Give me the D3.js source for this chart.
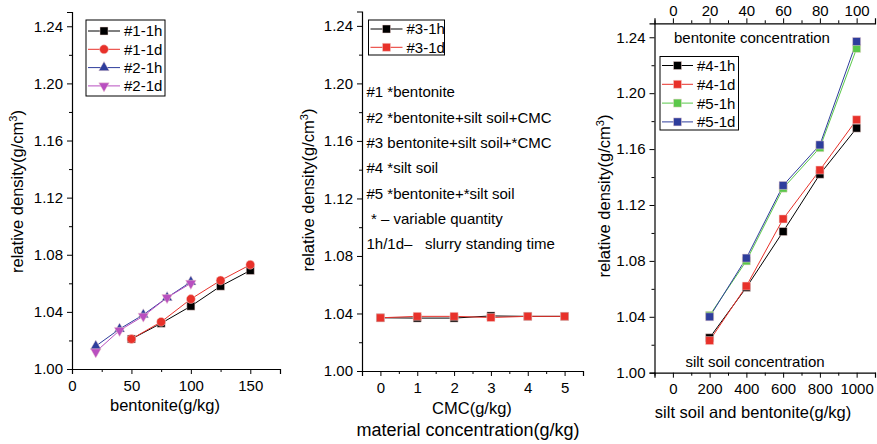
<!DOCTYPE html>
<html>
<head>
<meta charset="utf-8">
<script src="https://cdn.jsdelivr.net/npm/d3@7"></script>
<style>
  body { margin: 0; background: #fff; }
  text { font-family: "Liberation Sans", Arial, sans-serif; fill: #000; white-space: pre; }
</style>
</head>
<body>
<script>
// ---- data ----
var bentX1 = [50, 75, 100, 125, 150];
var s1h = [1.021, 1.032, 1.044, 1.058, 1.069];
var s1d = [1.021, 1.033, 1.049, 1.062, 1.073];
var bentX2 = [20, 40, 60, 80, 100];
var s2h = [1.016, 1.028, 1.038, 1.050, 1.061];
var s2d = [1.012, 1.027, 1.037, 1.050, 1.060];

var cmcX = [0, 1, 2, 3, 4, 5];
var s3h = [1.037, 1.0368, 1.0368, 1.0383, 1.038, 1.038];
var s3d = [1.037, 1.038, 1.038, 1.0372, 1.038, 1.038];

var mixX = [200, 400, 600, 800, 1000];
var s4h = [1.025, 1.061, 1.101, 1.142, 1.175];
var s4d = [1.023, 1.062, 1.110, 1.145, 1.181];
var s5h = [1.041, 1.080, 1.132, 1.161, 1.232];
var s5d = [1.040, 1.082, 1.134, 1.163, 1.237];

var yTicks = [1.00, 1.04, 1.08, 1.12, 1.16, 1.20, 1.24];
var yMinor = [1.02, 1.06, 1.10, 1.14, 1.18, 1.22];

var notes = ["#1 *bentonite", "#2 *bentonite+silt soil+CMC", "#3 bentonite+silt soil+*CMC",
  "#4 *silt soil", "#5 *bentonite+*silt soil", "* \u2013 variable quantity",
  "1h/1d\u2013   slurry standing time"];

var C = { black: "#000000", red: "#e8312a", blue: "#2e3d9c", magenta: "#b94fc0", green: "#5ac84a" };

var W = 877, H = 444;
var svg = d3.select("body").append("svg").attr("width", W).attr("height", H);

var sym = {
  square: d3.symbol().type(d3.symbolSquare).size(64),
  circle: d3.symbol().type(d3.symbolCircle).size(62),
  up: d3.symbol().type(d3.symbolTriangle).size(48),
  down: d3.symbol().type(d3.symbolTriangle).size(48)
};

function drawMarker(g, kind, color, x, y) {
  g.append("path")
    .attr("d", sym[kind]())
    .attr("transform", "translate(" + x + "," + y + ")" + (kind == "down" ? " rotate(180)" : ""))
    .attr("fill", color)
    .attr("stroke", "#f3d3d0")
    .attr("stroke-opacity", 0.6)
    .attr("stroke-width", 0.8);
}

function styleAxis(g) {
  g.selectAll(".domain").attr("stroke", "#000").attr("stroke-width", 1.2);
  g.selectAll(".tick line").attr("stroke", "#000").attr("stroke-width", 1);
  g.selectAll(".tick text").style("font-size", "15px");
}

function yTitle(x, y) {
  var t = svg.append("text")
    .attr("transform", "translate(" + x + "," + y + ") rotate(-90)")
    .attr("text-anchor", "middle")
    .style("font-size", "16.5px");
  t.append("tspan").text("relative density(g/cm");
  t.append("tspan").attr("dy", -6).style("font-size", "11px").text("3");
  t.append("tspan").attr("dy", 6).text(")");
}

function panel(p) {
  var x = d3.scaleLinear().domain(p.xDomain).range([p.left, p.right]);
  var y = d3.scaleLinear().domain([1.00, 1.25]).range([p.bottom, p.top]);

  // y axis
  var ya = svg.append("g").attr("transform", "translate(" + p.left + ",0)")
    .call(d3.axisLeft(y).tickValues(yTicks).tickFormat(d3.format(".2f")).tickSizeOuter(0).tickSize(5).tickPadding(4));
  styleAxis(ya);
  svg.append("g").attr("transform", "translate(" + p.left + ",0)")
    .call(d3.axisLeft(y).tickValues(yMinor).tickFormat("").tickSize(3).tickSizeOuter(0))
    .call(function(g) { g.select(".domain").remove(); styleAxis(g); });

  // x axis
  var xa = svg.append("g").attr("transform", "translate(0," + p.bottom + ")")
    .call(d3.axisBottom(x).tickValues(p.xTicks).tickFormat(d3.format("d")).tickSizeOuter(0).tickSize(5).tickPadding(6));
  styleAxis(xa);
  svg.append("g").attr("transform", "translate(0," + p.bottom + ")")
    .call(d3.axisBottom(x).tickValues(p.xMinor).tickFormat("").tickSize(3).tickSizeOuter(0))
    .call(function(g) { g.select(".domain").remove(); styleAxis(g); });

  svg.append("text").attr("x", p.xTitleX).attr("y", p.bottom + p.xTitleDy)
    .attr("text-anchor", "middle").style("font-size", "16.5px").text(p.xTitle);

  yTitle(p.yTitleX, p.yTitleY);

  var line = d3.line().x(function(d) { return x(d[0]); }).y(function(d) { return y(d[1]); });
  p.series.forEach(function(s) {
    var pts = d3.zip(s.x, s.v);
    svg.append("path").datum(pts).attr("d", line)
      .attr("fill", "none").attr("stroke", s.color).attr("stroke-width", 1);
  });
  p.series.forEach(function(s) {
    var g = svg.append("g");
    d3.zip(s.x, s.v).forEach(function(d) { drawMarker(g, s.kind, s.color, x(d[0]), y(d[1])); });
  });

  // legend
  var L = p.legend;
  svg.append("rect").attr("x", L.x).attr("y", L.y).attr("width", L.w).attr("height", L.h)
    .attr("fill", "#fff").attr("stroke", "#000").attr("stroke-width", 1);
  p.series.forEach(function(s, i) {
    var cy = L.y + L.first + i * L.step;
    svg.append("line").attr("x1", L.x + 2).attr("x2", L.x + 2 + L.lineW).attr("y1", cy).attr("y2", cy)
      .attr("stroke", s.color).attr("stroke-width", 1);
    drawMarker(svg, s.kind, s.color, L.x + 2 + L.lineW / 2, cy);
    svg.append("text").attr("x", L.x + L.lineW + 6).attr("y", cy).attr("dy", "0.36em")
      .style("font-size", "15px").text(s.name);
  });
  return { x: x, y: y };
}

// panel 1
panel({
  left: 72, right: 280, top: 12, bottom: 369,
  xDomain: [0, 175], xTicks: [0, 50, 100, 150], xMinor: [25, 75, 125, 175],
  xTitle: "bentonite(g/kg)", xTitleX: 165, xTitleDy: 42, yTitleX: 23, yTitleY: 191.5,
  series: [
    { name: "#1-1h", x: bentX1, v: s1h, color: C.black, kind: "square" },
    { name: "#1-1d", x: bentX1, v: s1d, color: C.red, kind: "circle" },
    { name: "#2-1h", x: bentX2, v: s2h, color: C.blue, kind: "up" },
    { name: "#2-1d", x: bentX2, v: s2d, color: C.magenta, kind: "down" }
  ],
  legend: { x: 86, y: 20, w: 79, h: 76, first: 11, step: 18.3, lineW: 32 }
});

// panel 2
panel({
  left: 362, right: 583, top: 11.5, bottom: 371,
  xDomain: [-0.5, 5.5], xTicks: [0, 1, 2, 3, 4, 5], xMinor: [-0.5, 0.5, 1.5, 2.5, 3.5, 4.5, 5.5],
  xTitle: "CMC(g/kg)", xTitleX: 472, xTitleDy: 43, yTitleX: 314, yTitleY: 190,
  series: [
    { name: "#3-1h", x: cmcX, v: s3h, color: C.black, kind: "square" },
    { name: "#3-1d", x: cmcX, v: s3d, color: C.red, kind: "square" }
  ],
  legend: { x: 368.5, y: 20, w: 76, h: 35, first: 9, step: 18.3, lineW: 32 }
});

svg.append("text").attr("x", 468).attr("y", 436).attr("text-anchor", "middle")
  .style("font-size", "18px").text("material concentration(g/kg)");

svg.append("g").selectAll("text").data(notes).join("text")
  .attr("x", function(d, i) { return i == 5 ? 371 : 366.5; })
  .attr("y", function(d, i) { return 92 + i * 25.3; })
  .attr("dy", "0.36em")
  .style("font-size", "15px")
  .text(function(d) { return d; });

// panel 3
panel({
  left: 654.5, right: 875, top: 23.3, bottom: 372.7,
  xDomain: [-100, 1100], xTicks: [0, 200, 400, 600, 800, 1000], xMinor: [-100, 100, 300, 500, 700, 900, 1100],
  xTitle: "silt soil and bentonite(g/kg)", xTitleX: 753, xTitleDy: 45, yTitleX: 610, yTitleY: 196,
  series: [
    { name: "#4-1h", x: mixX, v: s4h, color: C.black, kind: "square" },
    { name: "#4-1d", x: mixX, v: s4d, color: C.red, kind: "square" },
    { name: "#5-1h", x: mixX, v: s5h, color: C.green, kind: "square" },
    { name: "#5-1d", x: mixX, v: s5d, color: C.blue, kind: "square" }
  ],
  legend: { x: 660, y: 56.5, w: 78.5, h: 73.5, first: 9, step: 18.8, lineW: 31 }
});

// top axis of panel 3
var xTop = d3.scaleLinear().domain([-10, 110]).range([654.5, 875]);
var ta = svg.append("g").attr("transform", "translate(0,23.3)")
  .call(d3.axisTop(xTop).tickValues([0, 20, 40, 60, 80, 100]).tickSizeOuter(0).tickSize(5).tickPadding(2));
styleAxis(ta);
svg.append("g").attr("transform", "translate(0,23.3)")
  .call(d3.axisTop(xTop).tickValues([-10, 10, 30, 50, 70, 90, 110]).tickFormat("").tickSize(3).tickSizeOuter(0))
  .call(function(g) { g.select(".domain").remove(); styleAxis(g); });

svg.append("text").attr("x", 752).attr("y", 37.5).attr("dy", "0.36em").attr("text-anchor", "middle")
  .style("font-size", "15px").text("bentonite concentration");
svg.append("text").attr("x", 755).attr("y", 362).attr("dy", "0.36em").attr("text-anchor", "middle")
  .style("font-size", "15px").text("silt soil concentration");
</script>
</body>
</html>
